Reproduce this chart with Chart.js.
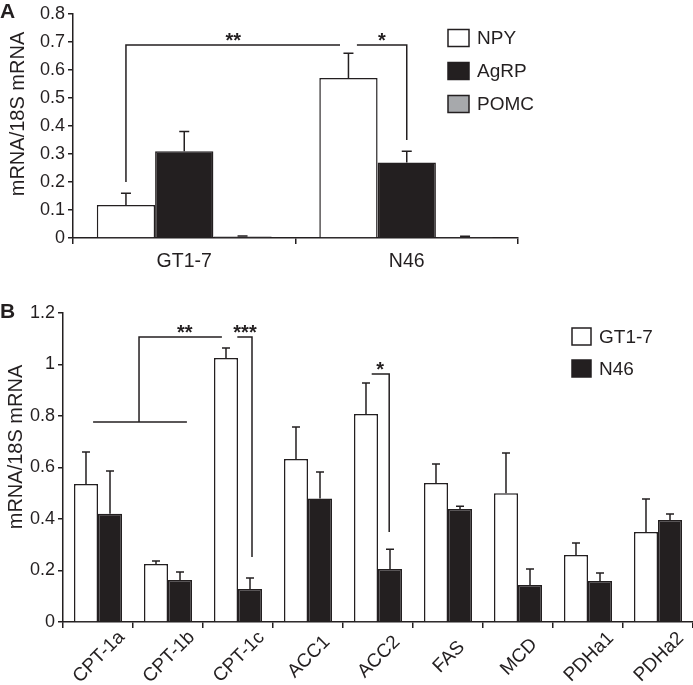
<!DOCTYPE html>
<html><head><meta charset="utf-8">
<script src="https://cdn.jsdelivr.net/npm/chart.js@4.4.0/dist/chart.umd.min.js"></script>
<style>
html,body{margin:0;padding:0;background:#fff;}
#wrap{position:relative;width:693px;height:685px;overflow:hidden;}
canvas{position:absolute;left:0;}
</style>
</head><body>
<div id="wrap">
<canvas id="cA" width="693" height="290" style="top:0px;width:693px;height:290px"></canvas>
<canvas id="cB" width="693" height="395" style="top:290px;width:693px;height:395px"></canvas>
</div>
<script>
// ---------- Panel A data ----------
const catsA = ['GT1-7', 'N46'];
const npyVals = [0.118, 0.571];
const npyErr = [0.042, 0.089];
const agrpVals = [0.31, 0.27];
const agrpErr = [0.07, 0.04];
const pomcVals = [0.005, 0.004];
const pomcErr = [0.002, 0.002];
const ticksA = [0, 0.1, 0.2, 0.3, 0.4, 0.5, 0.6, 0.7, 0.8];

// ---------- Panel B data ----------
const catsB = ['CPT-1a', 'CPT-1b', 'CPT-1c', 'ACC1', 'ACC2', 'FAS', 'MCD', 'PDHa1', 'PDHa2'];
const gt17Vals = [0.536, 0.225, 1.025, 0.633, 0.808, 0.54, 0.5, 0.26, 0.35];
const gt17Err = [0.124, 0.012, 0.039, 0.124, 0.12, 0.074, 0.156, 0.047, 0.128];
const n46Vals = [0.42, 0.163, 0.128, 0.48, 0.206, 0.439, 0.144, 0.159, 0.396];
const n46Err = [0.166, 0.031, 0.043, 0.103, 0.077, 0.011, 0.062, 0.031, 0.023];
const ticksB = [0, 0.2, 0.4, 0.6, 0.8, 1, 1.2];

// significance brackets, in data units (x = category index, y = value)
const bracketsA = [
  { path: [[-0.262, 0.2], [-0.262, 0.689], [0.70, 0.689]], label: '**', lx: 0.22, ly: 0.689 },
  { path: [[0.776, 0.689], [1.0, 0.689], [1.0, 0.35]], label: '*', lx: 0.888, ly: 0.689 }
];
const bracketsB = [
  { path: [[-0.07, 0.777], [1.27, 0.777]] },
  { path: [[0.586, 0.777], [0.586, 1.107], [1.77, 1.107]], label: '**', lx: 1.24, ly: 1.107 },
  { path: [[1.99, 1.107], [2.2, 1.107], [2.2, 0.252]], label: '***', lx: 2.1, ly: 1.107 },
  { path: [[3.91, 0.963], [4.16, 0.963], [4.16, 0.35]], label: '*', lx: 4.03, ly: 0.963 }
];

const INK = '#231f20';
const GRAY = '#a7a9ac';
const FONT = "'Liberation Sans', Arial, Helvetica, sans-serif";
Chart.defaults.font.family = FONT;
Chart.defaults.color = INK;

const fmt = v => String(+Number(v).toFixed(2));

const errorBarPlugin = {
  id: 'errbars',
  afterDatasetsDraw(chart, args, opts) {
    const ctx = chart.ctx;
    const ys = chart.scales.y;
    ctx.save();
    ctx.strokeStyle = INK;
    ctx.lineWidth = 1.5;
    chart.data.datasets.forEach((ds, di) => {
      const meta = chart.getDatasetMeta(di);
      meta.data.forEach((el, i) => {
        const top = ys.getPixelForValue(ds.data[i]);
        const ey = ys.getPixelForValue(ds.data[i] + ds.err[i]);
        ctx.beginPath();
        ctx.moveTo(el.x, top);
        ctx.lineTo(el.x, ey);
        ctx.moveTo(el.x - opts.cap, ey);
        ctx.lineTo(el.x + opts.cap, ey);
        ctx.stroke();
      });
    });
    ctx.restore();
  }
};

const bracketPlugin = {
  id: 'brackets',
  afterDraw(chart, args, opts) {
    const ctx = chart.ctx;
    const xs = chart.scales.x, ys = chart.scales.y;
    ctx.save();
    ctx.strokeStyle = INK;
    ctx.fillStyle = INK;
    ctx.lineWidth = 1.5;
    opts.items.forEach(b => {
      ctx.beginPath();
      b.path.forEach((p, k) => {
        const x = xs.getPixelForValue(p[0]);
        const y = ys.getPixelForValue(p[1]);
        if (k === 0) ctx.moveTo(x, y); else ctx.lineTo(x, y);
      });
      ctx.stroke();
      if (b.label) {
        ctx.font = 'bold 20px ' + FONT;
        ctx.textAlign = 'center';
        ctx.textBaseline = 'alphabetic';
        ctx.fillText(b.label, xs.getPixelForValue(b.lx), ys.getPixelForValue(b.ly) + 2);
      }
    });
    ctx.restore();
  }
};

const legendPlugin = {
  id: 'customLegend',
  afterDraw(chart, args, opts) {
    const ctx = chart.ctx;
    ctx.save();
    ctx.font = '19px ' + FONT;
    ctx.textAlign = 'left';
    ctx.textBaseline = 'middle';
    chart.data.datasets.forEach((ds, i) => {
      const cy = opts.y + i * opts.step;
      ctx.fillStyle = ds.backgroundColor;
      ctx.fillRect(opts.x, cy - opts.h / 2, opts.w, opts.h);
      ctx.strokeStyle = INK;
      ctx.lineWidth = 1.5;
      ctx.strokeRect(opts.x, cy - opts.h / 2, opts.w, opts.h);
      ctx.fillStyle = INK;
      ctx.fillText(ds.label, opts.x + opts.w + 8, cy + 1);
    });
    ctx.restore();
  }
};

// panel letter + y-axis title + (optionally) rotated category labels centred on each category
const textPlugin = {
  id: 'texts',
  afterDraw(chart, args, opts) {
    const ctx = chart.ctx;
    ctx.save();
    ctx.fillStyle = INK;
    ctx.font = 'bold 21px ' + FONT;
    ctx.textAlign = 'left';
    ctx.textBaseline = 'alphabetic';
    ctx.fillText(opts.letter, 0, opts.letterY);

    ctx.save();
    ctx.font = '20px ' + FONT;
    ctx.translate(opts.titleX, opts.titleY);
    ctx.rotate(-Math.PI / 2);
    ctx.textAlign = 'center';
    ctx.textBaseline = 'alphabetic';
    ctx.fillText(opts.title, 0, 0);
    ctx.restore();

    if (opts.rotLabels) {
      const xs = chart.scales.x;
      ctx.font = '19px ' + FONT;
      ctx.textAlign = 'center';
      ctx.textBaseline = 'middle';
      chart.data.labels.forEach((lab, i) => {
        const x = xs.getPixelForTick(i);
        ctx.save();
        ctx.translate(x + opts.rotDx, xs.top + opts.rotDy);
        ctx.rotate(-Math.PI / 4);
        ctx.fillText(lab, 0, 0);
        ctx.restore();
      });
    }
    ctx.restore();
  }
};

function barDs(label, data, err, fill, catPct) {
  return {
    label, data, err,
    backgroundColor: fill,
    borderColor: INK,
    borderWidth: 1.5,
    borderSkipped: 'bottom',
    categoryPercentage: catPct,
    barPercentage: 1.0
  };
}

// ---------- Chart A ----------
new Chart(document.getElementById('cA'), {
  type: 'bar',
  data: {
    labels: catsA,
    datasets: [
      barDs('NPY', npyVals, npyErr, '#ffffff', 0.786),
      barDs('AgRP', agrpVals, agrpErr, INK, 0.786),
      barDs('POMC', pomcVals, pomcErr, GRAY, 0.786)
    ]
  },
  options: {
    responsive: false, animation: false, devicePixelRatio: 1,
    layout: { padding: { left: 0, top: 14, right: 175, bottom: 0 } },
    plugins: {
      legend: { display: false }, tooltip: { enabled: false },
      errbars: { cap: 5 },
      brackets: { items: bracketsA },
      customLegend: { x: 448, y: 38, step: 33, w: 21, h: 17 },
      texts: { letter: 'A', letterY: 18, title: 'mRNA/18S mRNA', titleX: 24, titleY: 114, rotLabels: false }
    },
    scales: {
      x: {
        grid: { drawOnChartArea: false, drawTicks: true, tickLength: 6, color: INK, lineWidth: 1.5, offset: true },
        border: { color: INK, width: 1.5 },
        ticks: { font: { size: 19.5 }, color: INK, padding: 6 },
        afterFit: s => { s.height = 52; }
      },
      y: {
        min: 0, max: 0.8,
        afterBuildTicks: s => { s.ticks = ticksA.map(v => ({ value: v })); },
        ticks: { font: { size: 18 }, color: INK, padding: 3, callback: v => fmt(v) },
        grid: { drawOnChartArea: false, tickLength: 5, color: INK, lineWidth: 1.5 },
        border: { color: INK, width: 1.5 },
        afterFit: s => { s.width = 73; }
      }
    }
  },
  plugins: [errorBarPlugin, bracketPlugin, legendPlugin, textPlugin]
});

// ---------- Chart B ----------
new Chart(document.getElementById('cB'), {
  type: 'bar',
  data: {
    labels: catsB,
    datasets: [
      barDs('GT1-7', gt17Vals, gt17Err, '#ffffff', 0.686),
      barDs('N46', n46Vals, n46Err, INK, 0.686)
    ]
  },
  options: {
    responsive: false, animation: false, devicePixelRatio: 1,
    layout: { padding: { left: 0, top: 23, right: 0, bottom: 0 } },
    plugins: {
      legend: { display: false }, tooltip: { enabled: false },
      errbars: { cap: 4 },
      brackets: { items: bracketsB },
      customLegend: { x: 572, y: 46.5, step: 32, w: 19, h: 17 },
      texts: { letter: 'B', letterY: 28, title: 'mRNA/18S mRNA', titleX: 22, titleY: 157, rotLabels: true, rotDx: 1, rotDy: 35 }
    },
    scales: {
      x: {
        grid: { drawOnChartArea: false, drawTicks: true, tickLength: 6, color: INK, lineWidth: 1.5, offset: true },
        border: { color: INK, width: 1.5 },
        ticks: { display: false, autoSkip: false },
        afterFit: s => { s.height = 63; }
      },
      y: {
        min: 0, max: 1.2,
        afterBuildTicks: s => { s.ticks = ticksB.map(v => ({ value: v })); },
        ticks: { font: { size: 18 }, color: INK, padding: 3, callback: v => fmt(v) },
        grid: { drawOnChartArea: false, tickLength: 5, color: INK, lineWidth: 1.5 },
        border: { color: INK, width: 1.5 },
        afterFit: s => { s.width = 63; }
      }
    }
  },
  plugins: [errorBarPlugin, bracketPlugin, legendPlugin, textPlugin]
});
</script>
</body></html>
